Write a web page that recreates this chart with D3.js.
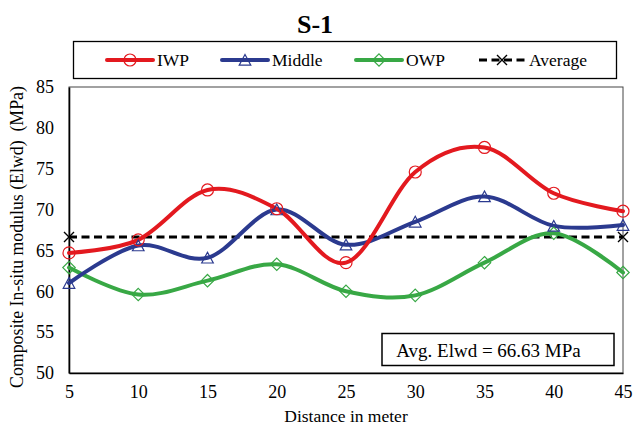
<!DOCTYPE html>
<html>
<head>
<meta charset="utf-8">
<script src="https://cdn.jsdelivr.net/npm/d3@7"></script>
<style>
  html, body { margin: 0; padding: 0; background: #fff; }
  svg text { font-family: "Liberation Serif", "Times New Roman", serif; fill: #000; }
</style>
</head>
<body>
<svg id="chart" width="642" height="426"></svg>
<script>
// Distance along the section (m)
const distances = [5, 10, 15, 20, 25, 30, 35, 40, 45];
// Composite in-situ modulus per wheel path (MPa)
const iwpValues    = [64.7, 66.3, 72.4, 70.1, 63.5, 74.6, 77.6, 72.0, 69.8];
const middleValues = [61.0, 65.6, 64.1, 70.0, 65.7, 68.5, 71.6, 68.0, 68.1];
const owpValues    = [62.9, 59.6, 61.3, 63.3, 60.0, 59.5, 63.5, 67.1, 62.3];
const averageValue = 66.63;
const yTicks = [50, 55, 60, 65, 70, 75, 80, 85];
const xTicks = [5, 10, 15, 20, 25, 30, 35, 40, 45];
const seriesNames = ["IWP", "Middle", "OWP", "Average"];

const colors = { IWP: "#e3191f", Middle: "#2b3a8f", OWP: "#38a845", Average: "#000" };
const serif = '"Liberation Serif", "Times New Roman", serif';

const svg = d3.select("#chart");
const plot = { left: 69, right: 623, top: 87, bottom: 373 };

const x = d3.scaleLinear().domain([5, 45]).range([plot.left, plot.right]);
const y = d3.scaleLinear().domain([50, 85]).range([plot.bottom, plot.top]);

// marker shapes
const markerPath = {
  Middle: "M0,-5.5L5.8,5.2L-5.8,5.2Z",
  OWP: "M0,-6.2L6.2,0L0,6.2L-6.2,0Z"
};

function drawMarker(g, name, cx, cy) {
  const c = colors[name];
  if (name === "IWP") {
    g.append("circle").attr("cx", cx).attr("cy", cy).attr("r", 6)
      .attr("fill", "none").attr("stroke", c).attr("stroke-width", 1.2);
  } else if (name === "Average") {
    const s = 5;
    g.append("path")
      .attr("d", `M${cx - s},${cy - s}L${cx + s},${cy + s}M${cx - s},${cy + s}L${cx + s},${cy - s}`)
      .attr("stroke", c).attr("stroke-width", 1.4).attr("fill", "none");
  } else {
    g.append("path").attr("d", markerPath[name])
      .attr("transform", `translate(${cx},${cy})`)
      .attr("fill", "none").attr("stroke", c).attr("stroke-width", 1.2);
  }
}

// Title
svg.append("text").attr("x", 315).attr("y", 33)
  .attr("text-anchor", "middle").style("font-size", "26px").style("font-weight", "bold")
  .text("S-1");

// Legend
svg.append("rect").attr("x", 73.5).attr("y", 41.5).attr("width", 543).attr("height", 37)
  .attr("fill", "#fff").attr("stroke", "#000").attr("stroke-width", 1.3);
const legendItems = [
  { name: "IWP", x0: 107 },
  { name: "Middle", x0: 222 },
  { name: "OWP", x0: 356 },
  { name: "Average", x0: 479 }
];
legendItems.forEach((it, i) => {
  const g = svg.append("g");
  const ly = 60;
  const ln = g.append("line").attr("x1", it.x0).attr("x2", it.x0 + 46)
    .attr("y1", ly).attr("y2", ly).attr("stroke", colors[it.name]);
  if (it.name === "Average") {
    ln.attr("stroke-width", 3).attr("stroke-dasharray", "8,4.5");
  } else {
    ln.attr("stroke-width", 4).attr("stroke-linecap", "round");
  }
  drawMarker(g, it.name, it.x0 + 23, ly);
  g.append("text").attr("x", it.x0 + 50).attr("y", ly + 6)
    .style("font-size", "17.5px").text(seriesNames[i]);
});

// Plot frame
svg.append("rect").attr("x", plot.left).attr("y", plot.top)
  .attr("width", plot.right - plot.left).attr("height", plot.bottom - plot.top)
  .attr("fill", "none").attr("stroke", "#444").attr("stroke-width", 1);

// Axes
const yAxis = svg.append("g").attr("transform", `translate(${plot.left},0)`)
  .call(d3.axisLeft(y).tickValues(yTicks).tickSize(0).tickPadding(15));
yAxis.attr("font-family", null).attr("font-size", null);
yAxis.select(".domain").attr("stroke", "#000").attr("stroke-width", 1.6);
yAxis.selectAll("text").style("font-family", serif).style("font-size", "18px");

const xAxis = svg.append("g").attr("transform", `translate(0,${plot.bottom})`)
  .call(d3.axisBottom(x).tickValues(xTicks).tickSize(0).tickPadding(12));
xAxis.attr("font-family", null).attr("font-size", null);
xAxis.select(".domain").attr("stroke", "#000").attr("stroke-width", 1.6);
xAxis.selectAll("text").style("font-family", serif).style("font-size", "18px");

// Axis titles
svg.append("text").attr("x", (plot.left + plot.right) / 2).attr("y", 422)
  .attr("text-anchor", "middle").style("font-size", "17.5px").text("Distance in meter");
svg.append("text")
  .attr("transform", `translate(23,${(plot.top + plot.bottom) / 2 + 7}) rotate(-90)`)
  .attr("text-anchor", "middle").style("font-size", "17.8px")
  .style("white-space", "pre")
  .text("Composite In-situ modulus (Elwd)  (MPa)");

// Smoothed series
const line = d3.line().x(d => x(d[0])).y(d => y(d[1])).curve(d3.curveCatmullRom.alpha(0));
const series = [
  { name: "OWP", values: owpValues },
  { name: "Middle", values: middleValues },
  { name: "IWP", values: iwpValues }
];

// Average reference line
const avgG = svg.append("g");
avgG.append("line").attr("x1", x(5)).attr("x2", x(45))
  .attr("y1", y(averageValue)).attr("y2", y(averageValue))
  .attr("stroke", "#000").attr("stroke-width", 3).attr("stroke-dasharray", "8,4.5");
drawMarker(avgG, "Average", x(5), y(averageValue));
drawMarker(avgG, "Average", x(45), y(averageValue));

series.forEach(s => {
  const pts = distances.map((d, i) => [d, s.values[i]]);
  svg.append("path").datum(pts).attr("d", line)
    .attr("fill", "none").attr("stroke", colors[s.name]).attr("stroke-width", 4)
    .attr("stroke-linecap", "round");
});
series.forEach(s => {
  const g = svg.append("g");
  distances.forEach((d, i) => drawMarker(g, s.name, x(d), y(s.values[i])));
});

// Annotation box
svg.append("rect").attr("x", 382).attr("y", 333.5).attr("width", 232).attr("height", 32)
  .attr("fill", "#fff").attr("stroke", "#000").attr("stroke-width", 1.5);
svg.append("text").attr("x", 488.5).attr("y", 356.5).attr("text-anchor", "middle")
  .style("font-size", "19px").text("Avg. Elwd = " + averageValue.toFixed(2) + " MPa");
</script>
</body>
</html>
